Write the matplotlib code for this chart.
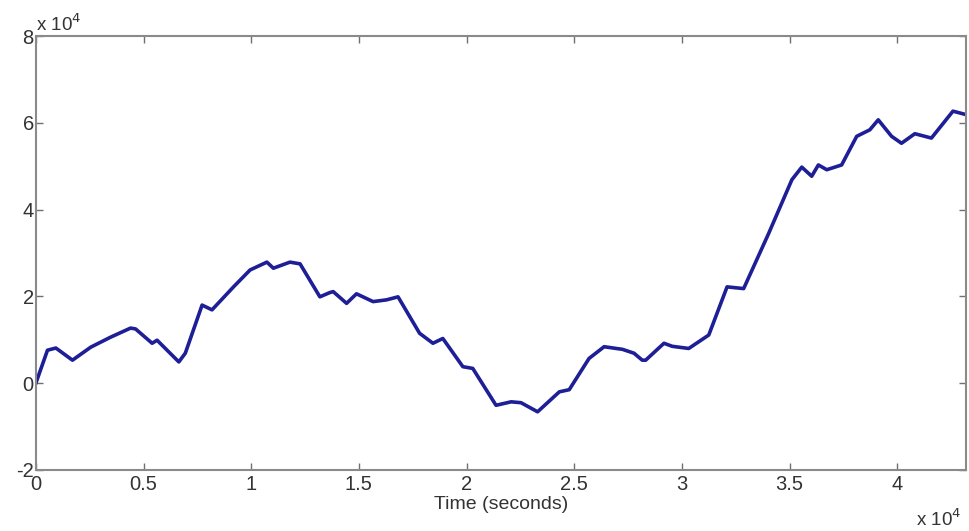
import matplotlib
matplotlib.use('Agg')
import matplotlib.pyplot as plt
from matplotlib.ticker import FuncFormatter, MultipleLocator

plt.rcParams['font.family'] = ['Liberation Sans', 'DejaVu Sans']

# values (seconds, raw units)
time_s = [0, 540, 930, 1700, 2550, 3470, 4400, 4630, 5400, 5630, 6640, 6940,
          7720, 8180, 9180, 9950, 10730, 11030, 11800, 12270, 13190, 13660,
          13810, 14430, 14890, 15660, 16280, 16820, 17820, 18440, 18900, 19830,
          20290, 21370, 22070, 22530, 23300, 24310, 24770, 25690, 26390, 27240,
          27780, 28160, 28320, 29170, 29550, 30320, 31250, 32100, 32870, 34030,
          35110, 35570, 36030, 36340, 36730, 37420, 38120, 38730, 39120, 39740,
          40200, 40820, 41590, 42590, 43200]
signal = [0, 7600, 8100, 5300, 8300, 10600, 12700, 12500, 9200, 9900, 4900, 6900,
          18000, 16900, 22200, 26100, 27900, 26500, 27900, 27500, 19900, 20900,
          21100, 18400, 20600, 18800, 19200, 19900, 11500, 9200, 10300, 3800,
          3400, -5100, -4300, -4500, -6600, -2000, -1500, 5700, 8400, 7800,
          6900, 5300, 5300, 9200, 8500, 8000, 11100, 22200, 21800, 34500,
          46900, 49800, 47700, 50300, 49200, 50300, 56900, 58400, 60700, 56900,
          55300, 57500, 56500, 62700, 61900]

fig = plt.figure(figsize=(9.69, 5.31), dpi=100)
fig.set_facecolor('white')
ax = fig.add_axes([0.037, 0.115, 0.960, 0.817])

ax.plot(time_s, signal, color='#1e1e96', linewidth=2.6, solid_joinstyle='round')

ax.set_xlim(0, 43200)
ax.set_ylim(-20000, 80000)
ax.xaxis.set_major_locator(MultipleLocator(5000))
ax.yaxis.set_major_locator(MultipleLocator(20000))
ax.xaxis.set_major_formatter(FuncFormatter(lambda v, p: '%g' % (v / 1e4)))
ax.yaxis.set_major_formatter(FuncFormatter(lambda v, p: '%g' % (v / 1e4)))
ax.tick_params(direction='in', length=5, width=1, color='#707070',
               top=True, right=True, labelsize=14.5, labelcolor='#333333')
ax.tick_params(axis='x', pad=4)
ax.tick_params(axis='y', pad=1.5)
for s in ax.spines.values():
    s.set_color('#8a8a8a')
    s.set_linewidth(1.5)

ax.set_xlabel('Time (seconds)', fontsize=14, color='#333333', labelpad=1)
ax.text(0.0, 1.003, r'x 10$^{4}$', transform=ax.transAxes, fontsize=13.5,
        color='#333333', ha='left', va='bottom')
fig.text(0.945, 0.002, r'x 10$^{4}$', fontsize=13.5, color='#333333',
         ha='left', va='bottom')

fig.savefig('out.png', dpi=100, facecolor='white')
